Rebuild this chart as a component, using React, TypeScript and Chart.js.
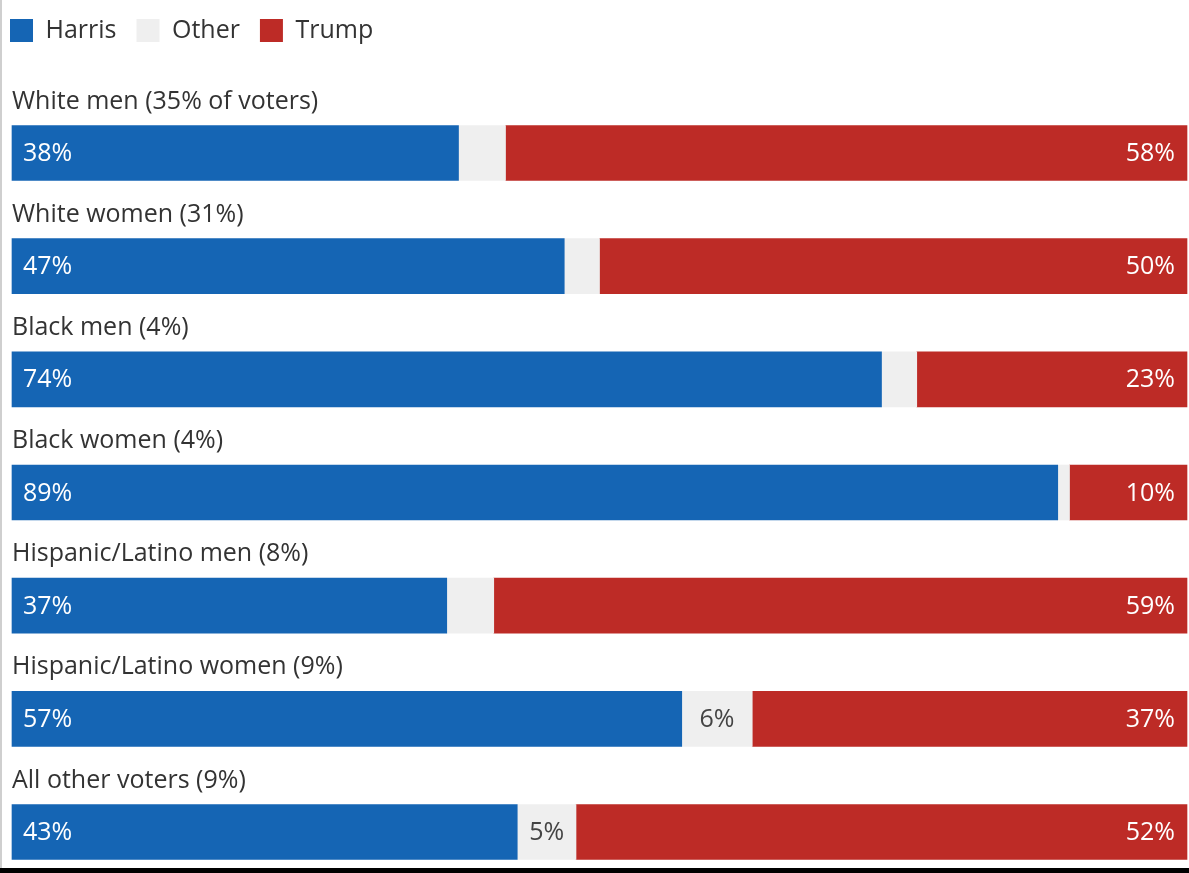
import React, { useEffect, useRef } from "react";
import { Chart, registerables } from "chart.js";

Chart.register(...registerables);

const categories = [
  "White men (35% of voters)",
  "White women (31%)",
  "Black men (4%)",
  "Black women (4%)",
  "Hispanic/Latino men (8%)",
  "Hispanic/Latino women (9%)",
  "All other voters (9%)",
];
const seriesNames = ["Harris", "Other", "Trump"];
const harrisValues = [38, 47, 74, 89, 37, 57, 43];
const otherValues = [4, 3, 3, 1, 4, 6, 5];
const trumpValues = [58, 50, 23, 10, 59, 37, 52];
const seriesColors = ["#1565b4", "#efefef", "#bd2b26"];
const valueTextColors = ["#ffffff", "#444444", "#ffffff"];

const FONT = "'Open Sans', 'Liberation Sans', sans-serif";

const legendShift = {
  id: "legendShift",
  afterLayout(chart: any) {
    if (chart.legend) {
      chart.legend.left -= 22;
      chart.legend.top -= 2;
    }
  },
};

const labelPlugin = {
  id: "rowLabels",
  afterDatasetsDraw(chart: any) {
    const ctx = chart.ctx;
    const area = chart.chartArea;
    ctx.save();
    const metas = chart.data.datasets.map((_: any, i: number) => chart.getDatasetMeta(i));
    chart.data.labels.forEach((label: string, idx: number) => {
      const bar = metas[0].data[idx];
      const top = bar.y - bar.height / 2;
      ctx.font = `25px ${FONT}`;
      ctx.fillStyle = "#333333";
      ctx.textAlign = "left";
      ctx.textBaseline = "alphabetic";
      ctx.fillText(label, area.left, top - 17);
    });
    metas.forEach((meta: any, di: number) => {
      const values = chart.data.datasets[di].data;
      meta.data.forEach((el: any, idx: number) => {
        const v = values[idx];
        ctx.font = `25px ${FONT}`;
        ctx.fillStyle = valueTextColors[di];
        ctx.textBaseline = "middle";
        const y = el.y + 1;
        const x0 = Math.min(el.base, el.x);
        const x1 = Math.max(el.base, el.x);
        if (di === 0) {
          ctx.textAlign = "left";
          ctx.fillText(`${v}%`, x0 + 11, y);
        } else if (di === 2) {
          ctx.textAlign = "right";
          ctx.fillText(`${v}%`, x1 - 12, y);
        } else if (v >= 5) {
          ctx.textAlign = "center";
          ctx.fillText(`${v}%`, (x0 + x1) / 2, y);
        }
      });
    });
    ctx.restore();
  },
};

export default function App() {
  const ref = useRef<HTMLCanvasElement | null>(null);
  useEffect(() => {
    if (!ref.current) return;
    const valueSets = [harrisValues, otherValues, trumpValues];
    const chart = new Chart(ref.current, {
      type: "bar",
      data: {
        labels: categories,
        datasets: seriesNames.map((name, i) => ({
          label: name,
          data: valueSets[i],
          backgroundColor: seriesColors[i],
          borderWidth: 0,
          barThickness: 55,
          clip: false as any,
        })),
      },
      options: {
        indexAxis: "y",
        animation: false,
        responsive: false,
        maintainAspectRatio: false,
        layout: { padding: { left: 12, right: 2, top: 0, bottom: 41 } },
        scales: {
          x: {
            stacked: true,
            min: 0,
            max: 100,
            position: "top",
            display: true,
            grid: { display: false },
            border: { display: false },
            ticks: { display: false },
            afterFit: (scale: any) => {
              scale.height = 98;
            },
          },
          y: { stacked: true, display: false, offset: false },
        },
        plugins: {
          tooltip: { enabled: false },
          legend: {
            display: true,
            position: "top",
            align: "start",
            labels: {
              boxWidth: 23,
              boxHeight: 23,
              padding: 20,
              color: "#333333",
              font: { size: 25, family: FONT },
            },
          },
        },
      },
      plugins: [legendShift, labelPlugin],
    });
    return () => chart.destroy();
  }, []);
  return (
    <div style={{ position: "fixed", left: 0, top: 0, width: 1189, height: 873, background: "#fff" }}>
      <canvas ref={ref} width={1189} height={873} style={{ position: "absolute", left: 0, top: 0, width: 1189, height: 873 }} />
      <div style={{ position: "absolute", left: 0, top: 0, width: 2, height: 873, background: "#cfcfcf" }} />
      <div style={{ position: "absolute", left: 0, top: 868, width: 1189, height: 5, background: "#000" }} />
    </div>
  );
}
